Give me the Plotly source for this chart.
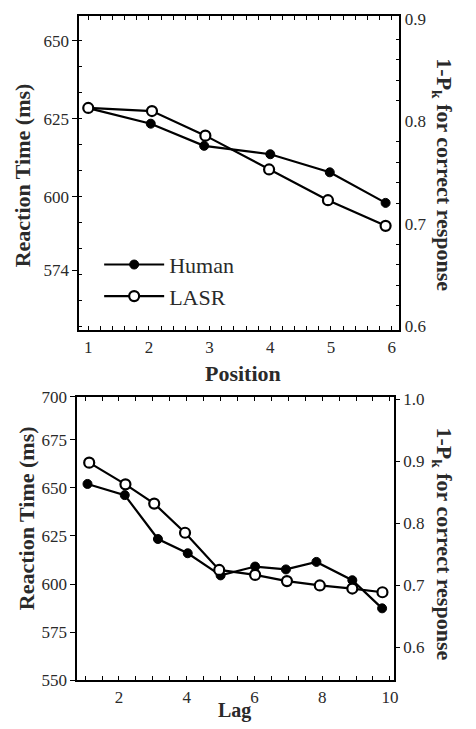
import plotly.graph_objects as go

# ---- data ----
position_human = [1.0, 2.03, 2.91, 4.0, 4.98, 5.9]
rt_human_position = [628.4, 623.4, 616.3, 613.6, 607.8, 598.0]
position_lasr = [1.0, 2.05, 2.93, 3.98, 4.95, 5.9]
p_lasr_position = [0.813, 0.810, 0.786, 0.753, 0.723, 0.698]

lag_human = [1.07, 2.17, 3.15, 4.03, 5.0, 6.02, 6.93, 7.83, 8.89, 9.77]
rt_human_lag = [652.0, 646.2, 623.4, 616.0, 604.5, 609.1, 607.6, 611.5, 602.0, 587.4]
lag_lasr = [1.12, 2.19, 3.04, 3.95, 4.96, 6.02, 6.96, 7.93, 8.89, 9.78]
p_lasr_lag = [0.898, 0.863, 0.832, 0.785, 0.725, 0.717, 0.707, 0.700, 0.695, 0.689]

top_rt_tickvals = [576.4, 600, 625, 650]
top_rt_ticktext = ["574", "600", "625", "650"]
bot_rt_tickvals = [550, 575, 600, 625, 650, 675, 697.2]
bot_rt_ticktext = ["550", "575", "600", "625", "650", "675", "700"]

W, H = 476, 729
FONT = "Liberation Serif"
TXT = "#2a2a2a"

human_marker = dict(symbol="circle", size=9, color="black", line=dict(color="black", width=1))
lasr_marker = dict(symbol="circle", size=10, color="white", line=dict(color="black", width=2.2))
line_style = dict(color="black", width=2.2)

fig = go.Figure()
fig.add_trace(go.Scatter(x=position_human, y=rt_human_position, mode="lines+markers",
                         name="Human", line=line_style, marker=human_marker,
                         xaxis="x", yaxis="y"))
fig.add_trace(go.Scatter(x=position_lasr, y=p_lasr_position, mode="lines+markers",
                         name="LASR", line=line_style, marker=lasr_marker,
                         xaxis="x", yaxis="y2"))
fig.add_trace(go.Scatter(x=lag_human, y=rt_human_lag, mode="lines+markers",
                         name="Human", line=line_style, marker=human_marker,
                         xaxis="x2", yaxis="y3", showlegend=False))
fig.add_trace(go.Scatter(x=lag_lasr, y=p_lasr_lag, mode="lines+markers",
                         name="LASR", line=line_style, marker=lasr_marker,
                         xaxis="x2", yaxis="y4", showlegend=False))

tickfont = dict(family=FONT, size=17, color=TXT)
common = dict(showgrid=False, zeroline=False, showline=True, linecolor="black",
              linewidth=2, tickfont=tickfont, tickcolor="black")

top_dom_x = [80 / W, 402.7 / W]
top_dom_y = [1 - 330 / H, 1 - 7.3 / H]
bot_dom_x = [78 / W, 397.3 / W]
bot_dom_y = [1 - 689.3 / H, 1 - 398.3 / H]

fig.update_layout(
    width=W, height=H,
    margin=dict(l=0, r=0, t=0, b=0),
    paper_bgcolor="white", plot_bgcolor="white",
    font=dict(family=FONT, color=TXT),
    xaxis=dict(domain=top_dom_x, anchor="y", range=[0.853, 6.126], dtick=1,
               ticks="inside", ticklen=4, mirror="allticks",
               minor=dict(dtick=0.2, ticks="inside", ticklen=3, tickcolor="black"),
               **common),
    yaxis=dict(domain=top_dom_y, anchor="x", range=[557.1, 657.9],
               tickvals=top_rt_tickvals, ticktext=top_rt_ticktext,
               ticks="outside", ticklen=5,
               minor=dict(tick0=600, dtick=25 / 3, ticks="inside", ticklen=3, tickcolor="black"),
               **common),
    yaxis2=dict(overlaying="y", anchor="x", side="right", range=[0.596, 0.9026],
                dtick=0.1, tickformat=".1f", ticks="", ticklen=0,
                minor=dict(dtick=0.02, ticks="inside", ticklen=3, tickcolor="black"),
                **common),
    xaxis2=dict(domain=bot_dom_x, anchor="y3", range=[0.77, 10.12], dtick=2,
                ticks="inside", ticklen=4, mirror="allticks",
                minor=dict(dtick=0.5, ticks="inside", ticklen=3, tickcolor="black"),
                **common),
    yaxis3=dict(domain=bot_dom_y, anchor="x2", range=[550, 697.2],
                tickvals=bot_rt_tickvals, ticktext=bot_rt_ticktext,
                ticks="outside", ticklen=5, **common),
    yaxis4=dict(overlaying="y3", anchor="x2", side="right", range=[0.547, 1.004],
                dtick=0.1, tickformat=".1f", ticks="outside", ticklen=4,
                **common),
    legend=dict(x=100 / W, y=1 - 241 / H, xanchor="left", yanchor="top",
                bgcolor="rgba(0,0,0,0)", font=dict(family=FONT, size=22, color=TXT),
                itemwidth=60, tracegroupgap=0),
)

annotations = [
    dict(text="<b>Reaction Time (ms)</b>", x=23 / W, y=1 - 171 / H, textangle=-90, size=22),
    dict(text="<b>Reaction Time (ms)</b>", x=27 / W, y=1 - 523 / H, textangle=-90, size=22),
    dict(text="<b>1-P<sub>k</sub> for correct response</b>", x=447 / W, y=1 - 170 / H, textangle=90, size=22),
    dict(text="<b>1-P<sub>k</sub> for correct response</b>", x=447 / W, y=1 - 549 / H, textangle=90, size=22),
    dict(text="<b>Position</b>", x=245 / W, y=1 - 374 / H, textangle=0, size=22),
    dict(text="<b>Lag</b>", x=236 / W, y=1 - 720 / H, textangle=0, size=20),
]
for a in annotations:
    size = a.pop("size")
    fig.add_annotation(xref="paper", yref="paper", showarrow=False,
                       xanchor="center", yanchor="middle", borderpad=0,
                       font=dict(family=FONT, size=size, color=TXT), **a)

fig.write_html("out.html", config={"displayModeBar": False},
               post_script="document.body.style.margin='0';")
